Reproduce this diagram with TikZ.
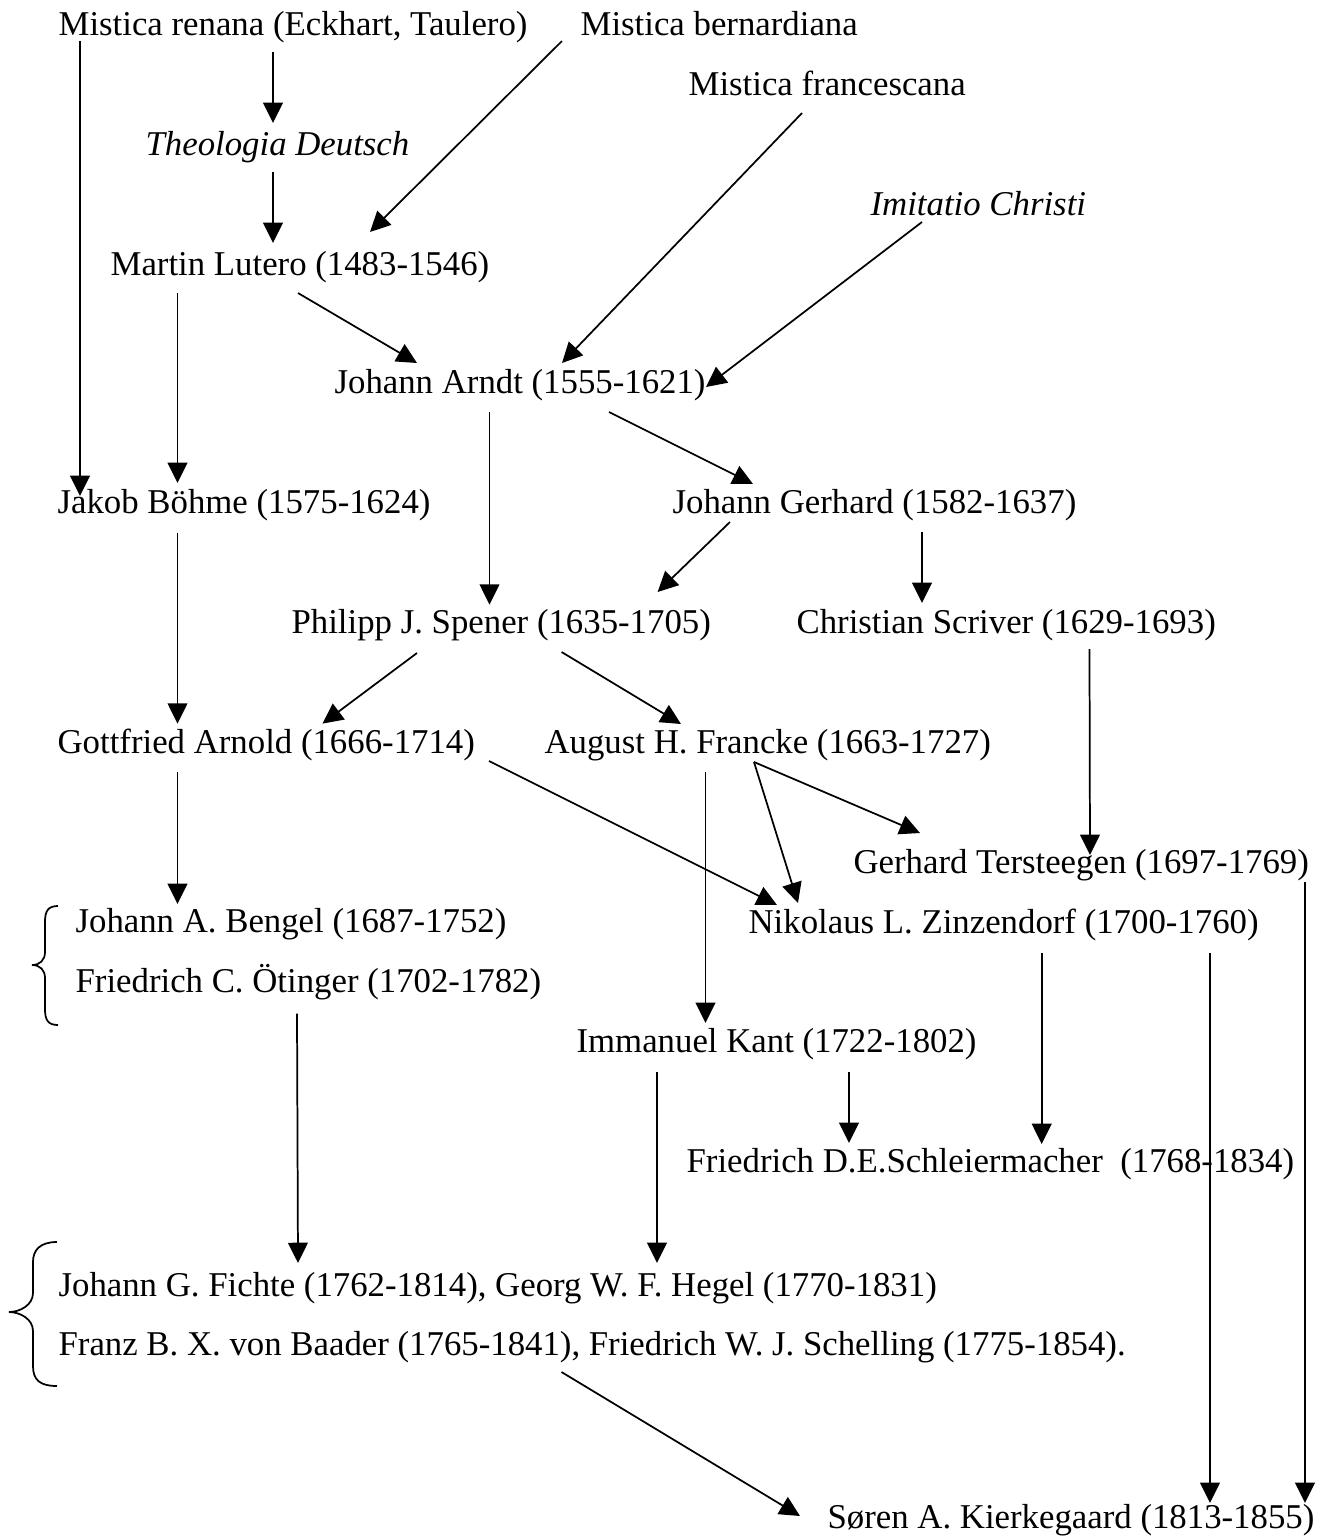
\documentclass[tikz,border=0pt,12pt]{standalone}
\usepackage{fontspec}
\setmainfont{Liberation Serif}
\usetikzlibrary{arrows.meta}

\begin{document}
\begin{tikzpicture}[x=0.345pt,y=-0.345pt,>={Triangle[length=7pt,width=6.8pt]},
    txt/.style={anchor=base west,inner sep=0pt,font=\fontsize{12}{14}\selectfont},
    arr/.style={->,line width=0.6pt},
    brc/.style={line width=0.6pt}]

    \useasboundingbox (0,0) rectangle (1322,1537);

    % 名字
    \node[txt] (renana) at (58,35) {Mistica renana (Eckhart, Taulero)};
    \node[txt] (bern) at (580,35) {Mistica bernardiana};
    \node[txt] (fran) at (688,95) {Mistica francescana};
    \node[txt] (theol) at (145,155) {\itshape Theologia Deutsch};
    \node[txt] (imit) at (870,215) {\itshape Imitatio Christi};
    \node[txt] (lutero) at (110,275) {Martin Lutero (1483-1546)};
    \node[txt] (arndt) at (334,393) {Johann Arndt (1555-1621)};
    \node[txt] (boehme) at (57,513) {Jakob Böhme (1575-1624)};
    \node[txt] (gerhard) at (672,513) {Johann Gerhard (1582-1637)};
    \node[txt] (spener) at (291,633) {Philipp J. Spener (1635-1705)};
    \node[txt] (scriver) at (796,633) {Christian Scriver (1629-1693)};
    \node[txt] (arnold) at (57,753) {Gottfried Arnold (1666-1714)};
    \node[txt] (francke) at (544,753) {August H. Francke (1663-1727)};
    \node[txt] (terst) at (853,873) {Gerhard Tersteegen (1697-1769)};
    \node[txt] (bengel) at (75,932) {Johann A. Bengel (1687-1752)};
    \node[txt] (zinz) at (748,933) {Nikolaus L. Zinzendorf (1700-1760)};
    \node[txt] (oetinger) at (75,992) {Friedrich C. Ötinger (1702-1782)};
    \node[txt] (kant) at (576,1052) {Immanuel Kant (1722-1802)};
    \node[txt] (schleier) at (686,1172) {Friedrich D.E.Schleiermacher\ \ (1768-1834)};
    \node[txt] (fichte) at (58,1296) {Johann G. Fichte (1762-1814), Georg W. F. Hegel (1770-1831)};
    \node[txt] (baader) at (58,1355) {Franz B. X. von Baader (1765-1841), Friedrich W. J. Schelling (1775-1854).};
    \node[txt] (kierk) at (827,1528) {Søren A. Kierkegaard (1813-1855)};

    % 箭头
    \foreach \a/\ax/\ay/\b/\bx/\by in {
            renana/22/6/boehme/23/-17,
            renana/215/17/theol/128/-32,
            theol/128/17/lutero/163/-32,
            bern/-18/6/lutero/260/-43,
            fran/114/18/arndt/228/-30,
            imit/52/7/arndt/372/-6,
            lutero/188/18/arndt/83/-30,
            lutero/67.5/18/boehme/120.5/-30,
            arndt/155.5/19/spener/198.5/-28.4,
            arndt/275/19/gerhard/81/-29,
            gerhard/58/9/spener/366.6/-41,
            gerhard/250/19/scriver/126/-30,
            boehme/120.5/19.5/arnold/120.5/-29.4,
            spener/126/20/arnold/265.5/-29.4,
            spener/270.6/19/francke/137/-29,
            scriver/293.5/16/terst/237/-18,
            arnold/432/8/zinz/29/-28,
            francke/210/9/terst/67/-40,
            francke/210/9/zinz/50/-30,
            francke/161.5/19/kant/129.5/-29,
            arnold/120.5/19/bengel/102.5/-28,
            oetinger/222/21.5/fichte/240/-33,
            zinz/293.7/20/schleier/355.7/-28,
            kant/273/20/schleier/163/-29,
            kant/81/20/fichte/599/-33,
            zinz/462/20/kierk/383/-25,
            terst/452/9/kierk/478/-25,
            baader/503.5/17/kierk/-27/-12} {
            \draw[arr] ([shift={(\ax,\ay)}]\a.base west) -- ([shift={(\bx,\by)}]\b.base west);
        }

    % 括号
    \draw[brc] (58,906) .. controls (48,906) and (45,911) .. (45,922) -- (45,952)
        .. controls (45,960) and (40,965) .. (32,965)
        .. controls (40,965) and (45,970) .. (45,978) -- (45,1009)
        .. controls (45,1020) and (48,1025) .. (58,1025);
    \draw[brc] (57,1242) .. controls (40,1242) and (33,1250) .. (33,1262) -- (33,1293)
        .. controls (33,1305) and (20,1312) .. (9,1312)
        .. controls (20,1312) and (33,1319) .. (33,1331) -- (33,1366)
        .. controls (33,1380) and (40,1386) .. (57,1386);

\end{tikzpicture}
\end{document}
